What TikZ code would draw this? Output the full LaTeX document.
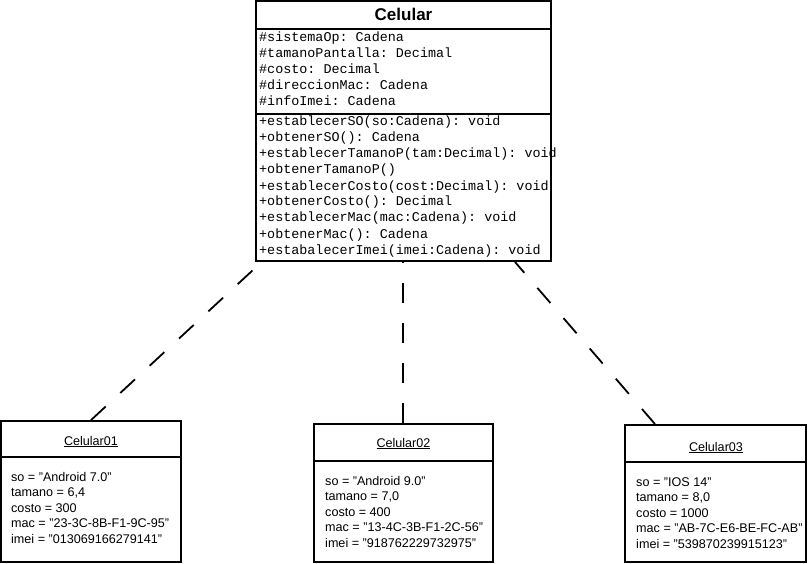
\documentclass[tikz,border=0pt]{standalone}
\usepackage{fontspec}
\setmainfont{Liberation Sans}
\setmonofont{Liberation Mono}
\tikzset{
  box/.style = {draw, line width = 1.8pt, inner sep = 0pt},
  mono/.style = {anchor = base west, inner sep = 0pt,
                 font = \ttfamily\fontsize{13.4}{16}\selectfont},
  obj/.style = {anchor = base west, inner sep = 0pt,
                font = \fontsize{12.6}{15}\selectfont},
  link/.style = {line width = 1.8pt, dash pattern = on 20pt off 20pt}
}
\begin{document}
\begin{tikzpicture}[x = 1pt, y = -1pt]
  \useasboundingbox (0,0) rectangle (808,564);
  % class
  \node [box, minimum width = 295pt, minimum height = 260pt] (cls) at (403.5,131) {};
  \draw [line width = 1.8pt] (cls.west |- 0,29) -- (cls.east |- 0,29);
  \draw [line width = 1.8pt] (cls.west |- 0,114) -- (cls.east |- 0,114);
  \node [anchor = base, inner sep = 0pt, font = \bfseries\fontsize{17}{20}\selectfont]
    (title) at (403.5,21) {Celular};
  \foreach \t [count = \i] in {
      \#sistemaOp: Cadena,
      \#tamanoPantalla: Decimal,
      \#costo: Decimal,
      \#direccionMac: Cadena,
      \#infoImei: Cadena}
    \node [mono] (attr\i) at (259,{26+16*\i}) {\t};
  \foreach \t [count = \i] in {
      +establecerSO(so:Cadena): void,
      +obtenerSO(): Cadena,
      +establecerTamanoP(tam:Decimal): void,
      +obtenerTamanoP(),
      +establecerCosto(cost:Decimal): void,
      +obtenerCosto(): Decimal,
      +establecerMac(mac:Cadena): void,
      +obtenerMac(): Cadena,
      +estabalecerImei(imei:Cadena): void}
    \node [mono] (meth\i) at (259,{110+16*\i}) {\t};
  % objects
  \node [box, minimum width = 180pt, minimum height = 141pt] (o1) at (91,491.5) {};
  \node [box, minimum width = 179pt, minimum height = 138pt] (o2) at (403.5,493) {};
  \node [box, minimum width = 181pt, minimum height = 137pt] (o3) at (715.5,493.5) {};
  \draw [line width = 1.8pt] (o1.west |- 0,457) -- (o1.east |- 0,457);
  \draw [line width = 1.8pt] (o2.west |- 0,461) -- (o2.east |- 0,461);
  \draw [line width = 1.8pt] (o3.west |- 0,462) -- (o3.east |- 0,462);
  \node [obj, anchor = base] (n1) at (91,445) {\underline{Celular01}};
  \node [obj, anchor = base] (n2) at (403.5,447) {\underline{Celular02}};
  \node [obj, anchor = base] (n3) at (716,451) {\underline{Celular03}};
  \foreach \t [count = \i] in {
      so = "Android 7.0",
      tamano = {6,4},
      costo = 300,
      mac = "23-3C-8B-F1-9C-95",
      imei = "013069166279141"}
    \node [obj] (a\i) at (11,{465.5+15.5*\i}) {\t};
  \foreach \t [count = \i] in {
      so = "Android 9.0",
      tamano = {7,0},
      costo = 400,
      mac = "13-4C-3B-F1-2C-56",
      imei = "918762229732975"}
    \node [obj] (b\i) at (325,{469.5+15.5*\i}) {\t};
  \foreach \t [count = \i] in {
      so = "IOS 14",
      tamano = {8,0},
      costo = 1000,
      mac = "AB-7C-E6-BE-FC-AB",
      imei = "539870239915123"}
    \node [obj] (c\i) at (636,{470.5+15.5*\i}) {\t};
  % links
  \coordinate (l1) at (253,270);
  \coordinate (l2) at (403,261);
  \coordinate (l3) at (515,262);
  \draw [link] (o1.north) -- (l1);
  \draw [link] (o2.north -| l2) -- (l2);
  \draw [link] (o3.north -| 655,0) -- (l3);
\end{tikzpicture}
\end{document}
